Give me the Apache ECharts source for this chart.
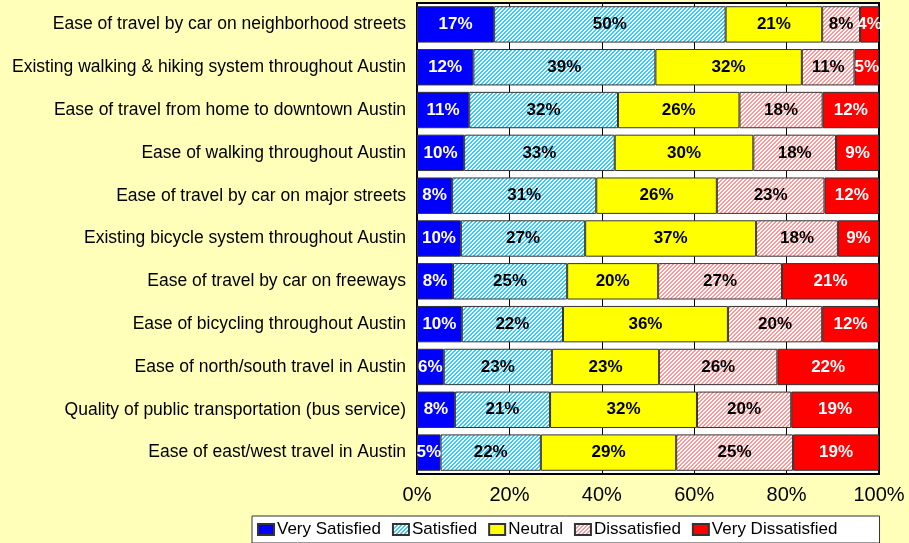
<!DOCTYPE html>
<html>
<head>
<meta charset="utf-8">
<title>Satisfaction with transportation</title>
<script src="https://cdn.jsdelivr.net/npm/echarts@6/dist/echarts.min.js"></script>
<style>
  html, body { margin: 0; padding: 0; background: #FFFFB9; }
  #chart { width: 909px; height: 543px; }
</style>
</head>
<body>
<div id="chart"></div>
<script>
  // categories, top to bottom
  var categories = [
    'Ease of travel by car on neighborhood streets',
    'Existing walking & hiking system throughout Austin',
    'Ease of travel from home to downtown Austin',
    'Ease of walking throughout Austin',
    'Ease of travel by car on major streets',
    'Existing bicycle system throughout Austin',
    'Ease of travel by car on freeways',
    'Ease of bicycling throughout Austin',
    'Ease of north/south travel in Austin',
    'Quality of public transportation (bus service)',
    'Ease of east/west travel in Austin'
  ]
  var verySatisfied = [16.7, 12.2, 11.3, 10.2, 7.6, 9.5, 7.8, 9.7, 5.8, 8.2, 5.1]
  var satisfied = [50.1, 39.4, 32.2, 32.6, 31.2, 26.9, 24.7, 21.9, 23.4, 20.6, 21.7]
  var neutral = [20.9, 31.7, 26.3, 30.0, 26.1, 37.0, 19.7, 35.7, 23.2, 31.8, 29.3]
  var dissatisfied = [8.2, 11.4, 18.0, 17.9, 23.3, 17.7, 26.8, 20.4, 25.6, 20.4, 25.3]
  var veryDissatisfied = [4.1, 5.3, 12.2, 9.3, 11.8, 8.9, 21.0, 12.3, 22.0, 19.0, 18.6]
  var seriesNames = ['Very Satisfied', 'Satisfied', 'Neutral', 'Dissatisfied', 'Very Dissatisfied']
  var xTicks = [0, 20, 40, 60, 80, 100]

  // diagonal hatch like the excel fills
  function hatch(col) {
    var c = document.createElement('canvas')
    c.width = 4
    c.height = 4
    var ctx = c.getContext('2d')
    ctx.fillStyle = '#fff'
    ctx.fillRect(0, 0, 4, 4)
    ctx.fillStyle = col
    for (var x = 0; x < 4; x++) {
      for (var y = 0; y < 4; y++) {
        var k = (x + y) % 4
        if (k === 0 || k === 1) ctx.fillRect(x, y, 1, 1)
      }
    }
    return { image: c, repeat: 'repeat' }
  }

  var fills = ['#0000FF', hatch('#33CCFF'), '#FFFF00', hatch('#FF9999'), '#FF0000']
  var labelColors = ['#fff', '#000', '#000', '#000', '#fff']
  var values = [verySatisfied, satisfied, neutral, dissatisfied, veryDissatisfied]

  var series = seriesNames.map(function (name, i) {
    return {
      name: name,
      type: 'bar',
      stack: 'all',
      barCategoryGap: '15%',
      data: values[i],
      itemStyle: {
        color: fills[i],
        borderColor: '#333',
        borderWidth: 1
      },
      label: {
        show: true,
        position: 'inside',
        color: labelColors[i],
        fontFamily: 'Arial, Liberation Sans',
        fontWeight: 'bold',
        fontSize: 17,
        formatter: function (p) { return Math.round(p.value) + '%' }
      }
    }
  })

  var chart = echarts.init(document.getElementById('chart'))
  chart.setOption({
    backgroundColor: '#FFFFB9',
    animation: false,
    textStyle: { fontFamily: 'Arial, Liberation Sans' },
    grid: {
      left: 417,
      right: 30,
      top: 3,
      bottom: 69,
      show: true,
      backgroundColor: '#fff',
      borderColor: '#000',
      borderWidth: 2
    },
    legend: {
      data: seriesNames,
      icon: 'rect',
      left: 252,
      top: 516,
      padding: [5, 42, 5, 5],
      itemWidth: 16,
      itemHeight: 11,
      itemGap: 11,
      backgroundColor: '#fff',
      borderColor: '#333',
      borderWidth: 1,
      borderRadius: 0,
      textStyle: { fontSize: 17, color: '#000', padding: [0, 0, 0, -2] }
    },
    xAxis: {
      type: 'value',
      min: xTicks[0],
      max: xTicks[xTicks.length - 1],
      interval: 20,
      axisLine: { show: false },
      axisTick: { show: false },
      splitLine: { show: true, lineStyle: { color: '#000', width: 1 } },
      axisLabel: { fontSize: 20, color: '#000', margin: 11, formatter: '{value}%' }
    },
    yAxis: {
      type: 'category',
      inverse: true,
      data: categories,
      axisLine: { show: false },
      axisTick: { show: false },
      axisLabel: { fontSize: 17.5, color: '#000', margin: 11 }
    },
    series: series
  })
</script>
</body>
</html>
